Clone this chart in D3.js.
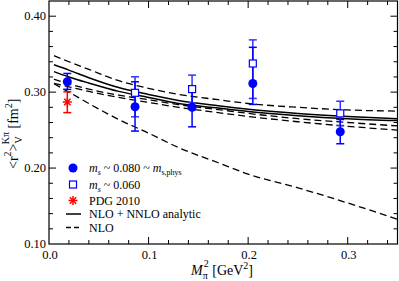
<!DOCTYPE html>
<html lang="en">
<head>
  <meta charset="UTF-8">
  <title>Kpi vector radius</title>
  <script src="https://cdnjs.cloudflare.com/ajax/libs/d3/7.8.5/d3.min.js"></script>
  <style>
    body { margin: 0; background: #fff; }
  </style>
</head>
<body>
<div id="chart"></div>
<script type="text/javascript">
  // data
  var msPhysX  = [0.0184, 0.0864, 0.1437, 0.2047, 0.2925];
  var msPhysY  = [0.3136, 0.2807, 0.2800, 0.3114, 0.2478];
  var msPhysLo = [0.3036, 0.2487, 0.2543, 0.2838, 0.2320];
  var msPhysHi = [0.3246, 0.3136, 0.3060, 0.3590, 0.2640];

  var ms060X  = [0.0864, 0.1437, 0.2047, 0.2925];
  var ms060Y  = [0.2991, 0.3040, 0.3377, 0.2720];
  var ms060Lo = [0.2675, 0.2860, 0.2917, 0.2560];
  var ms060Hi = [0.3202, 0.3224, 0.3688, 0.2880];

  var pdgX = [0.0184];
  var pdgY = [0.2870];
  var pdgLo = [0.2730];
  var pdgHi = [0.3004];

  var curveX     = [0.005, 0.02, 0.04, 0.07, 0.1, 0.13, 0.17, 0.2, 0.25, 0.3, 0.35];
  var nnloUpper  = [0.336, 0.329, 0.319, 0.306, 0.297, 0.289, 0.282, 0.2775, 0.272, 0.268, 0.265];
  var nnloLower  = [0.327, 0.320, 0.312, 0.301, 0.293, 0.285, 0.279, 0.2745, 0.269, 0.265, 0.2625];
  var nloUpper   = [0.348, 0.340, 0.330, 0.315, 0.305, 0.297, 0.290, 0.285, 0.280, 0.2765, 0.275];
  var nloLowA    = [0.317, 0.311, 0.304, 0.296, 0.290, 0.2835, 0.277, 0.272, 0.265, 0.260, 0.2555];
  var nloLowB    = [0.3115, 0.307, 0.301, 0.293, 0.2865, 0.280, 0.273, 0.268, 0.261, 0.255, 0.250];
  var nloSteep   = [0.311, 0.300, 0.285, 0.264, 0.246, 0.227, 0.207, 0.192, 0.174, 0.154, 0.1325];

  var xTicks = [0.0, 0.1, 0.2, 0.3];
  var yTicks = [0.10, 0.20, 0.30, 0.40];

  var W = 399, H = 281;
  // plot frame (named so they don't clash with window.top)
  var pLeft = 49, pRight = 397.5, pTop = 1, pBottom = 244;

  var x = d3.scaleLinear().domain([0, 0.35]).range([pLeft, pRight]);
  var y = d3.scaleLinear().domain([0.10, 0.42]).range([pBottom, pTop]);

  var svg = d3.select("#chart").append("svg")
    .attr("width", W)
    .attr("height", H)
    .attr("font-family", "'Liberation Serif', 'Times New Roman', 'DejaVu Serif', serif");

  svg.append("clipPath").attr("id", "clip")
    .append("rect")
    .attr("x", pLeft).attr("y", pTop)
    .attr("width", pRight - pLeft).attr("height", pBottom - pTop);

  // ticks on all four sides, pointing inward
  var xMinor = d3.range(0.02, 0.35, 0.02);
  var yMinor = d3.range(0.12, 0.42, 0.02);
  var tickG = svg.append("g").attr("stroke", "#000").attr("stroke-width", 1);
  xMinor.forEach(function(v) {
    var major = Math.abs(v * 10 - Math.round(v * 10)) < 1e-6;
    var len = major ? 7 : 4;
    tickG.append("line").attr("x1", x(v)).attr("x2", x(v)).attr("y1", pBottom).attr("y2", pBottom - len);
    tickG.append("line").attr("x1", x(v)).attr("x2", x(v)).attr("y1", pTop).attr("y2", pTop + len);
  });
  yMinor.forEach(function(v) {
    var major = Math.abs(v * 10 - Math.round(v * 10)) < 1e-6;
    var len = major ? 7 : 4;
    tickG.append("line").attr("x1", pLeft).attr("x2", pLeft + len).attr("y1", y(v)).attr("y2", y(v));
    tickG.append("line").attr("x1", pRight).attr("x2", pRight - len).attr("y1", y(v)).attr("y2", y(v));
  });

  svg.append("rect")
    .attr("x", pLeft).attr("y", pTop)
    .attr("width", pRight - pLeft).attr("height", pBottom - pTop)
    .attr("fill", "none").attr("stroke", "#000").attr("stroke-width", 1.2);

  // tick labels
  svg.selectAll(".xlab").data(xTicks).enter().append("text")
    .attr("class", "xlab")
    .attr("x", function(d) { return x(d) + 1; })
    .attr("y", 258.5)
    .attr("text-anchor", "middle")
    .attr("font-size", 12.5)
    .text(function(d) { return d3.format(".1f")(d); });

  svg.selectAll(".ylab").data(yTicks).enter().append("text")
    .attr("class", "ylab")
    .attr("x", 46)
    .attr("y", function(d) { return y(d) + 4; })
    .attr("text-anchor", "end")
    .attr("font-size", 12.5)
    .text(function(d) { return d3.format(".2f")(d); });

  // axis titles
  var xt = svg.append("text")
    .attr("x", 191).attr("y", 275)
    .attr("font-size", 14);
  xt.append("tspan").attr("font-style", "italic").text("M");
  xt.append("tspan").attr("font-size", 10).attr("dy", 4).text("π");
  xt.append("tspan").attr("font-size", 10).attr("dx", -4).attr("dy", -12).text("2");
  xt.append("tspan").attr("dy", 8).text(" [GeV");
  xt.append("tspan").attr("font-size", 10).attr("dy", -6).text("2");
  xt.append("tspan").attr("dy", 6).text("]");

  var yt = svg.append("text")
    .attr("transform", "translate(18,169) rotate(-90)")
    .attr("font-size", 14);
  yt.append("tspan").text("<r");
  yt.append("tspan").attr("font-size", 10).attr("dy", -7).text("2");
  yt.append("tspan").attr("dy", 7).text(">");
  yt.append("tspan").attr("font-size", 10).attr("dy", 4).text("V");
  yt.append("tspan").attr("font-size", 10).attr("dx", -8).attr("dy", -13).text("Kπ");
  yt.append("tspan").attr("dy", 9).text("  [fm");
  yt.append("tspan").attr("font-size", 10).attr("dy", -6).text("2");
  yt.append("tspan").attr("dy", 6).text("]");

  // curves
  var plot = svg.append("g").attr("clip-path", "url(#clip)");
  var line = d3.line()
    .x(function(d) { return x(d[0]); })
    .y(function(d) { return y(d[1]); })
    .curve(d3.curveMonotoneX);

  function drawCurve(vals, dashed) {
    plot.append("path")
      .datum(curveX.map(function(v, i) { return [v, vals[i]]; }))
      .attr("d", line)
      .attr("fill", "none")
      .attr("stroke", "#000")
      .attr("stroke-width", dashed ? 1.3 : 1.5)
      .attr("stroke-dasharray", dashed ? "7,4" : null);
  }
  drawCurve(nloUpper, true);
  drawCurve(nloLowA, true);
  drawCurve(nloLowB, true);
  drawCurve(nloSteep, true);
  drawCurve(nnloUpper, false);
  drawCurve(nnloLower, false);

  // error bars
  function errorBars(xs, lo, hi, color) {
    var g = svg.append("g").attr("stroke", color).attr("stroke-width", 1.5);
    xs.forEach(function(v, i) {
      var cx = x(v);
      g.append("line").attr("x1", cx).attr("x2", cx).attr("y1", y(lo[i])).attr("y2", y(hi[i]));
      g.append("line").attr("x1", cx - 4).attr("x2", cx + 4).attr("y1", y(lo[i])).attr("y2", y(lo[i]));
      g.append("line").attr("x1", cx - 4).attr("x2", cx + 4).attr("y1", y(hi[i])).attr("y2", y(hi[i]));
    });
  }
  errorBars(ms060X, ms060Lo, ms060Hi, "#3333ff");
  errorBars(msPhysX, msPhysLo, msPhysHi, "#0000ff");
  errorBars(pdgX, pdgLo, pdgHi, "#ff0000");

  function circle(g, cx, cy) {
    g.append("circle").attr("cx", cx).attr("cy", cy).attr("r", 4.5).attr("fill", "#0000ff");
  }
  function square(g, cx, cy) {
    g.append("rect").attr("x", cx - 3.5).attr("y", cy - 3.5).attr("width", 7).attr("height", 7)
      .attr("fill", "#fff").attr("stroke", "#0000ff").attr("stroke-width", 1.2);
  }
  function star(g, cx, cy) {
    var r = 4.5;
    [0, 45, 90, 135].forEach(function(a) {
      var t = a * Math.PI / 180;
      g.append("line")
        .attr("x1", cx - r * Math.cos(t)).attr("y1", cy - r * Math.sin(t))
        .attr("x2", cx + r * Math.cos(t)).attr("y2", cy + r * Math.sin(t))
        .attr("stroke", "#ff0000").attr("stroke-width", 1.5);
    });
  }

  var marks = svg.append("g");
  ms060X.forEach(function(v, i) { square(marks, x(v), y(ms060Y[i])); });
  msPhysX.forEach(function(v, i) { circle(marks, x(v), y(msPhysY[i])); });
  pdgX.forEach(function(v, i) { star(marks, x(v), y(pdgY[i])); });

  // legend
  var lg = svg.append("g");
  var tx = 89;
  circle(lg, 73, 168);
  var t1 = lg.append("text").attr("x", tx).attr("y", 172).attr("font-size", 12);
  t1.append("tspan").attr("font-style", "italic").text("m");
  t1.append("tspan").attr("font-style", "italic").attr("font-size", 8).attr("dy", 3).text("s");
  t1.append("tspan").attr("dy", -3).text(" ~ 0.080 ~ ");
  t1.append("tspan").attr("font-style", "italic").text("m");
  t1.append("tspan").attr("font-size", 8).attr("dy", 3).text("s,phys");

  square(lg, 73, 184.5);
  var t2 = lg.append("text").attr("x", tx).attr("y", 188.5).attr("font-size", 12);
  t2.append("tspan").attr("font-style", "italic").text("m");
  t2.append("tspan").attr("font-style", "italic").attr("font-size", 8).attr("dy", 3).text("s");
  t2.append("tspan").attr("dy", -3).text(" ~ 0.060");

  star(lg, 73, 200.5);
  lg.append("text").attr("x", tx).attr("y", 204.5).attr("font-size", 12).text("PDG 2010");

  lg.append("line").attr("x1", 66).attr("x2", 81).attr("y1", 214).attr("y2", 214)
    .attr("stroke", "#000").attr("stroke-width", 1.5);
  lg.append("text").attr("x", tx).attr("y", 218).attr("font-size", 12).text("NLO + NNLO analytic");

  lg.append("line").attr("x1", 66).attr("x2", 81).attr("y1", 227.5).attr("y2", 227.5)
    .attr("stroke", "#000").attr("stroke-width", 1.3).attr("stroke-dasharray", "5,3");
  lg.append("text").attr("x", tx).attr("y", 231.5).attr("font-size", 12).text("NLO");
</script>
</body>
</html>
